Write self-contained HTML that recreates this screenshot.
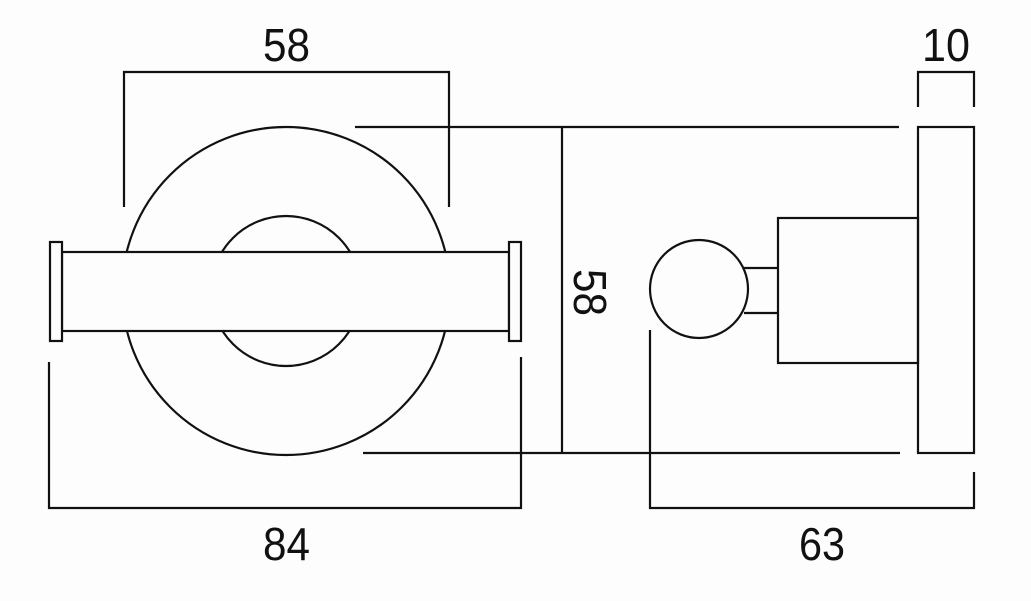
<!DOCTYPE html>
<html><head><meta charset="utf-8"><style>
html,body{margin:0;padding:0;background:#fff;}
svg{display:block}
text{font-family:"Liberation Sans",sans-serif;font-size:46px;fill:#111;}
</style></head><body>
<svg width="1031" height="601" viewBox="0 0 1031 601" xmlns="http://www.w3.org/2000/svg">
<rect width="1031" height="601" fill="#fdfdfd"/>
<g fill="none" stroke="#111" stroke-width="2.2">
<!-- 58 top dim -->
<polyline points="124,207 124,72 449,72 449,207"/>
<!-- big circle & inner -->
<circle cx="286" cy="291" r="164"/>
<circle cx="286" cy="291" r="75"/>
<!-- bar -->
<rect x="62" y="252" width="447" height="79" fill="#fdfdfd"/>
<rect x="50" y="242" width="12" height="99" fill="#fdfdfd"/>
<rect x="509" y="242" width="12" height="99" fill="#fdfdfd"/>
<!-- 84 dim -->
<polyline points="49,362 49,508 521,508 521,357"/>
<!-- 58 vertical dim -->
<line x1="355" y1="127" x2="899" y2="127"/>
<line x1="363" y1="453" x2="900" y2="453"/>
<line x1="562" y1="127" x2="562" y2="453"/>
<!-- side view -->
<rect x="918" y="127" width="56" height="326"/>
<rect x="778" y="218" width="140" height="145"/>
<line x1="744" y1="268" x2="778" y2="268"/>
<line x1="744" y1="313" x2="778" y2="313"/>
<circle cx="699" cy="289" r="49" fill="#fdfdfd"/>
<!-- 10 dim -->
<polyline points="918,107 918,72 974,72 974,107"/>
<!-- 63 dim -->
<polyline points="650,330 650,508 974,508 974,472"/>
</g>
<text x="263" y="61" textLength="47" lengthAdjust="spacingAndGlyphs">58</text>
<text x="922" y="61" textLength="48" lengthAdjust="spacingAndGlyphs">10</text>
<text x="263" y="560" textLength="47" lengthAdjust="spacingAndGlyphs">84</text>
<text x="799" y="560" textLength="46" lengthAdjust="spacingAndGlyphs">63</text>
<text transform="translate(574,269) rotate(90)" x="0" y="0" textLength="47" lengthAdjust="spacingAndGlyphs">58</text>
</svg>
</body></html>
